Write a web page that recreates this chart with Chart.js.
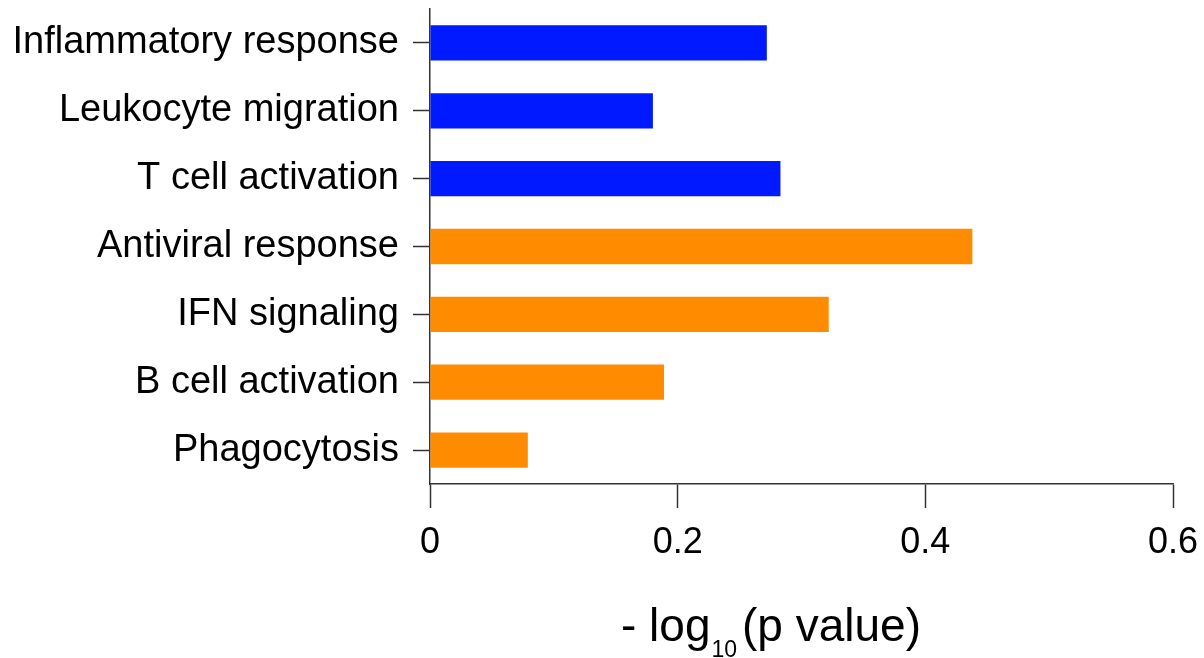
<!DOCTYPE html>
<html>
<head>
<meta charset="utf-8">
<script src="https://cdn.jsdelivr.net/npm/chart.js@4.4.1/dist/chart.umd.min.js"></script>
<style>
    html, body { margin: 0; padding: 0; background: #fff; }
    #wrap { width: 1204px; height: 658px; }
</style>
</head>
<body>
<div id="wrap"><canvas id="chart"></canvas></div>
<script>
const categories = ['Inflammatory response', 'Leukocyte migration', 'T cell activation', 'Antiviral response', 'IFN signaling', 'B cell activation', 'Phagocytosis'];
const pValues = [0.272, 0.180, 0.283, 0.438, 0.322, 0.189, 0.079];
const barColors = ['#0019ff', '#0019ff', '#0019ff', '#ff8c00', '#ff8c00', '#ff8c00', '#ff8c00'];
const xTicks = [0, 0.2, 0.4, 0.6];

// x axis title, split so the "10" can be drawn as a subscript
const titleMain = '- log';
const titleSub = '10';
const titleTail = '(p value)';

const fontFamily = '"Liberation Sans", Arial, Helvetica, sans-serif';
const axisColor = '#333';

const subscriptTitle = {
    id: 'subscriptTitle',
    afterDraw(chart) {
        const ctx = chart.ctx;
        const area = chart.chartArea;
        ctx.save();
        ctx.fillStyle = '#000';
        ctx.textBaseline = 'alphabetic';
        ctx.textAlign = 'left';

        ctx.font = '46px ' + fontFamily;
        const wMain = ctx.measureText(titleMain).width;
        const wTail = ctx.measureText(titleTail).width;
        ctx.font = '23px ' + fontFamily;
        const wSub = ctx.measureText(titleSub).width;
        const gap = 5;

        const total = wMain + wSub + gap + wTail;
        let x = (area.left + area.right) / 2 - 31 - total / 2;
        const base = chart.height - 17;

        ctx.font = '46px ' + fontFamily;
        ctx.fillText(titleMain, x, base);
        x += wMain + 1;
        ctx.font = '23px ' + fontFamily;
        ctx.fillText(titleSub, x, base + 16);
        x += wSub + gap;
        ctx.font = '46px ' + fontFamily;
        ctx.fillText(titleTail, x, base);
        ctx.restore();
    }
};

new Chart(document.getElementById('chart').getContext('2d'), {
    type: 'bar',
    data: {
        labels: categories,
        datasets: [{
            data: pValues,
            backgroundColor: barColors,
            borderWidth: 0,
            barPercentage: 0.52,
            categoryPercentage: 1.0
        }]
    },
    options: {
        indexAxis: 'y',
        responsive: true,
        maintainAspectRatio: false,
        animation: false,
        layout: {
            padding: { top: 9, right: 31, left: 10, bottom: 0 }
        },
        plugins: {
            legend: { display: false },
            tooltip: { enabled: false }
        },
        scales: {
            x: {
                min: 0,
                max: 0.6,
                grid: {
                    drawOnChartArea: false,
                    drawTicks: true,
                    tickLength: 24,
                    tickWidth: 1.5,
                    tickColor: axisColor
                },
                border: { display: true, color: axisColor, width: 1.5 },
                ticks: {
                    color: '#000',
                    padding: 13,
                    maxRotation: 0,
                    font: { size: 36, family: fontFamily },
                    callback: value => String(value)
                },
                afterBuildTicks: scale => {
                    scale.ticks = xTicks.map(v => ({ value: v }));
                },
                afterFit: scale => {
                    scale.height = 174;
                    // the 0.6 label may hang into the right margin
                    scale.paddingLeft = 0;
                    scale.paddingRight = 0;
                }
            },
            y: {
                grid: {
                    display: true,
                    offset: false,
                    drawOnChartArea: false,
                    drawTicks: true,
                    tickLength: 17,
                    tickWidth: 1.5,
                    tickColor: axisColor
                },
                border: { display: true, color: axisColor, width: 1.5 },
                ticks: {
                    color: '#000',
                    padding: 14,
                    font: { size: 38, family: fontFamily }
                },
                afterFit: scale => {
                    scale.width = 420;
                    // labels sit inside the offset bands, no extra room needed above/below
                    scale.paddingTop = 0;
                    scale.paddingBottom = 0;
                }
            }
        }
    },
    plugins: [subscriptTitle]
});
</script>
</body>
</html>
